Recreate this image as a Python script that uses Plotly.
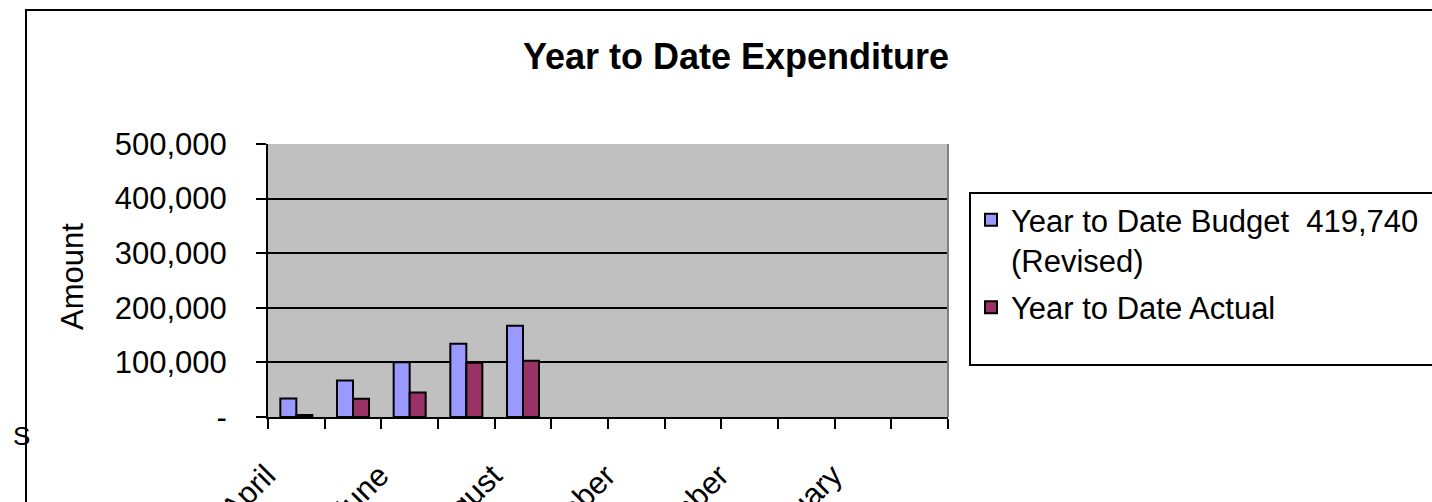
import plotly.graph_objects as go

months = ["April", "May", "June", "July", "August", "September", "October",
          "November", "December", "January", "February", "March"]
tick_labels = ["April", "", "June", "", "August", "", "October", "",
               "December", "", "February", ""]
budget = [34000, 67000, 100500, 134000, 167000, None, None, None, None, None, None, None]
actual = [3800, 33500, 45000, 99500, 103000, None, None, None, None, None, None, None]
y_ticks = [0, 100000, 200000, 300000, 400000, 500000]
y_tick_text = ["-", "100,000", "200,000", "300,000", "400,000", "500,000"]

FONT = "Liberation Sans, Arial, sans-serif"
W, H = 1432, 502
L, R, T, B = 268, 948, 144, 417


def px(x):
    return (x - L) / (R - L)


def py(y):
    return (B - y) / (B - T)


fig = go.Figure()
fig.add_trace(go.Bar(
    x=months, y=budget,
    name="Year to Date Budget\u00a0\u00a0419,740<br>(Revised)",
    marker=dict(color="#9999FF", line=dict(color="black", width=2)),
    legendgroup="a",
))
fig.add_trace(go.Bar(
    x=months, y=actual,
    name="Year to Date Actual",
    marker=dict(color="#993366", line=dict(color="black", width=2)),
    legendgroup="b",
))

fig.update_layout(
    width=W, height=H,
    margin=dict(l=L, r=W - R, t=T, b=H - B, autoexpand=False),
    paper_bgcolor="white",
    plot_bgcolor="#C0C0C0",
    barmode="group",
    bargap=0.435,
    bargroupgap=0,
    font=dict(family=FONT, size=31, color="black"),
    title=dict(
        text="<b>Year to Date Expenditure</b>",
        font=dict(family=FONT, size=36, color="black"),
        xref="paper", x=px(736), xanchor="center",
        yref="container", y=1 - 56 / H, yanchor="middle",
    ),
    showlegend=True,
    legend=dict(
        x=px(971), xanchor="left",
        y=py(193), yanchor="top",
        valign="top",
        bgcolor="rgba(0,0,0,0)",
        borderwidth=0,
        font=dict(family=FONT, size=31, color="black"),
        tracegroupgap=4,
    ),
    xaxis=dict(
        type="category",
        categoryorder="array", categoryarray=months,
        tickmode="array", tickvals=months, ticktext=tick_labels,
        tickson="boundaries",
        ticks="outside", ticklen=10, tickwidth=2, tickcolor="black",
        showline=True, linecolor="black", linewidth=2,
        showgrid=False,
        tickangle=-45,
        tickfont=dict(family=FONT, size=31, color="black"),
        ticklabelstandoff=26,
        ticklabelshift=-30,
        automargin=False,
        fixedrange=True,
    ),
    yaxis=dict(
        range=[0, 500000],
        tickmode="array", tickvals=y_ticks, ticktext=y_tick_text,
        ticks="outside", ticklen=10, tickwidth=2, tickcolor="black",
        showline=True, linecolor="black", linewidth=2,
        showgrid=True, gridcolor="black", gridwidth=2,
        zeroline=False,
        tickfont=dict(family=FONT, size=31, color="black"),
        ticklabelstandoff=23,
        automargin=False,
        fixedrange=True,
    ),
)

fig.add_annotation(
    text="Amount", textangle=-90,
    xref="paper", yref="paper", x=px(72), y=py(277),
    xanchor="center", yanchor="middle", showarrow=False,
    font=dict(family=FONT, size=31, color="black"),
)
fig.add_annotation(
    text="S",
    xref="paper", yref="paper", x=px(21), y=py(436),
    xanchor="center", yanchor="middle", showarrow=False,
    font=dict(family=FONT, size=26, color="black"),
)

# plot area right border (grey)
fig.add_shape(type="line", xref="paper", yref="paper",
              x0=1, x1=1, y0=0, y1=1,
              line=dict(color="#808080", width=2))
# legend frame
fig.add_shape(type="rect", xref="paper", yref="paper",
              x0=px(970), x1=px(1445), y0=py(365), y1=py(193),
              line=dict(color="black", width=2), fillcolor="rgba(0,0,0,0)")
# chart outer frame
fig.add_shape(type="rect", xref="paper", yref="paper",
              x0=px(26), x1=px(1450), y0=py(520), y1=py(10),
              line=dict(color="black", width=2), fillcolor="rgba(0,0,0,0)")

fig.write_html("out.html", config={"displayModeBar": False})
